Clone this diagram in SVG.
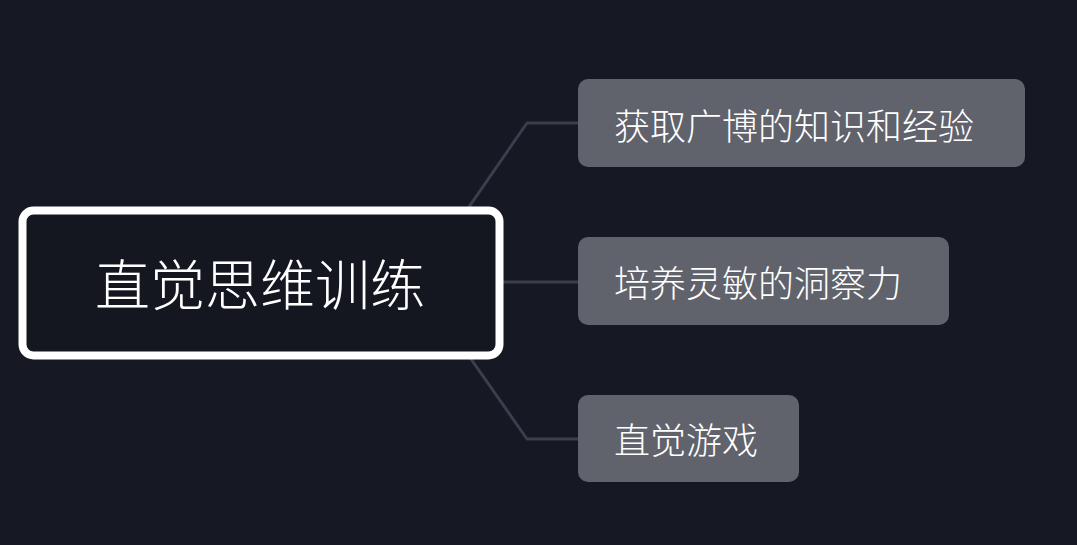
<svg xmlns="http://www.w3.org/2000/svg" width="1077" height="545" viewBox="0 0 1077 545">
<style>
.conn{fill:none;stroke:#3b3e4b;stroke-width:3;stroke-linejoin:round}
.child rect{fill:#60626c}
.child text{fill:#ffffff;font-family:"Noto Sans CJK SC","Noto Sans",sans-serif;font-weight:300;font-size:36px;dominant-baseline:central}
.root text{fill:#ffffff;font-family:"Noto Sans CJK SC","Noto Sans",sans-serif;font-weight:300;font-size:55px;text-anchor:middle;dominant-baseline:central}
</style>
<rect x="0" y="0" width="1077" height="545" fill="#161823"/>
<g id="connectors">
<path class="conn" d="M417,282 L527,123 L578,123"/>
<path class="conn" d="M417,282 L578,282"/>
<path class="conn" d="M417,282 L527,439 L578,439"/>
</g>
<g id="root" class="root">
<rect x="22.5" y="210.5" width="477" height="145" rx="11" fill="#141620" stroke="#ffffff" stroke-width="8"/>
<text x="260" y="281">直觉思维训练</text>
</g>
<g id="child1" class="child">
<rect x="578" y="79" width="447" height="88" rx="10"/>
<text x="614" y="124">获取广博的知识和经验</text>
</g>
<g id="child2" class="child">
<rect x="578" y="237" width="371" height="88" rx="10"/>
<text x="614" y="281">培养灵敏的洞察力</text>
</g>
<g id="child3" class="child">
<rect x="578" y="395" width="221" height="87" rx="10"/>
<text x="614" y="438">直觉游戏</text>
</g>
</svg>
